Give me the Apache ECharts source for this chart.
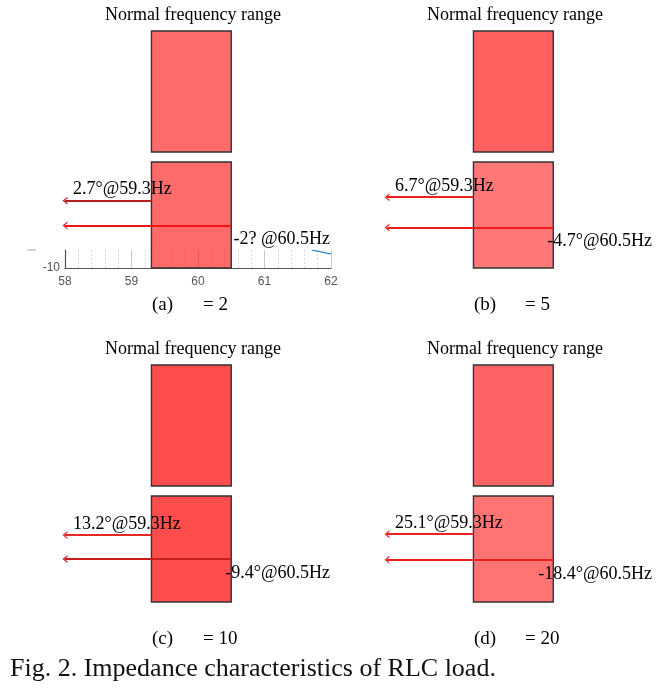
<!DOCTYPE html>
<html><head><meta charset="utf-8">
<script src="https://cdn.jsdelivr.net/npm/echarts@6/dist/echarts.min.js"></script>
<style>html,body{margin:0;padding:0;background:#fff}#c{width:670px;height:688px}</style>
</head><body><div id="c"></div>
<script>
// ---- data ----
const freqTicks = [58, 59, 60, 61, 62];
const normalRange = [59.3, 60.5];
const panelLetters = ['(a)', '(b)', '(c)', '(d)'];
const ratioValues = [2, 5, 10, 20];
const phaseAtLow = [2.7, 6.7, 13.2, 25.1];      // degrees @ 59.3 Hz
const phaseAtHigh = [-2, -4.7, -9.4, -18.4];    // degrees @ 60.5 Hz
const lowLabelText = ['2.7°@59.3Hz', '6.7°@59.3Hz', '13.2°@59.3Hz', '25.1°@59.3Hz'];
const highLabelText = ['-2? @60.5Hz', '-4.7°@60.5Hz', '-9.4°@60.5Hz', '-18.4°@60.5Hz'];
const phaseLimit = [10, 20, 50, 90];
const stripRange = [-10, -6.6];
const stripTickLabels = [-10];
const curveFreq = [61.71, 62];
const curvePhase = [-6.6, -7.36];
const panelTitle = 'Normal frequency range';
const figCaption = 'Fig. 2. Impedance characteristics of RLC load.';

// ---- layout / style ----
const gridLeft = [65, 387, 65, 387];
const gridWidth = 266;
const upperTop = [31, 31, 365, 365];
const upperH = 121;
const lowerTop = [162, 162, 496, 496];
const lowerH = 106;
const upperFill = ['rgba(255,0,0,0.58)', 'rgba(255,0,0,0.62)', 'rgba(255,0,0,0.70)', 'rgba(255,0,0,0.61)'];
const lowerFill = ['rgba(255,0,0,0.58)', 'rgba(255,0,0,0.53)', 'rgba(255,0,0,0.70)', 'rgba(255,0,0,0.55)'];
const arrowLowColor = ['#B82020', '#EC1E1E', '#E82626', '#EC2020'];
const arrowHighColor = ['#F01616', '#EC1E1E', '#C81C1C', '#EC2020'];
const serif = '"Liberation Serif", "Times New Roman", serif';
const chevron = 'path://M0,10 L5,0 L10,10 L8.2,10 L5,3.6 L1.8,10 Z';

const grids = [], xAxes = [], yAxes = [], series = [], graphics = [];
let gi = 0;
function hiddenX(g) {
  return { type: 'value', gridIndex: g, min: freqTicks[0], max: freqTicks[freqTicks.length - 1], show: false };
}
for (let p = 0; p < 4; p++) {
  // upper (magnitude) axes
  grids.push({ left: gridLeft[p], top: upperTop[p], width: gridWidth, height: upperH });
  xAxes.push(hiddenX(gi));
  yAxes.push({ type: 'value', gridIndex: gi, min: 0, max: 1, show: false });
  series.push({
    type: 'scatter', xAxisIndex: gi, yAxisIndex: gi, data: [], silent: true,
    markArea: { silent: true, itemStyle: { color: upperFill[p], borderColor: '#333', borderWidth: 1.4 },
      data: [[{ xAxis: normalRange[0] }, { xAxis: normalRange[1] }]] }
  });
  gi++;
  // lower (phase) axes
  grids.push({ left: gridLeft[p], top: lowerTop[p], width: gridWidth, height: lowerH });
  xAxes.push(hiddenX(gi));
  yAxes.push({ type: 'value', gridIndex: gi, min: -phaseLimit[p], max: phaseLimit[p], show: false });
  const lblBase = { show: true, fontFamily: serif, fontSize: 18, color: '#000', distance: 0 };
  series.push({
    type: 'scatter', xAxisIndex: gi, yAxisIndex: gi, symbolSize: 0, silent: true, z: 5,
    itemStyle: { opacity: 1 },
    data: [
      { value: [freqTicks[0], phaseAtLow[p]], label: Object.assign({}, lblBase, { position: 'right', offset: [8, -11], formatter: lowLabelText[p] }) },
      { value: [freqTicks[freqTicks.length - 1], phaseAtHigh[p]], label: Object.assign({}, lblBase, { position: 'left', offset: [-1, 14], formatter: highLabelText[p] }) }
    ],
    markArea: { silent: true, itemStyle: { color: lowerFill[p], borderColor: '#333', borderWidth: 1.4 },
      data: [[{ xAxis: normalRange[0] }, { xAxis: normalRange[1] }]] },
    markLine: {
      silent: true, symbol: ['none', chevron], symbolSize: [8, 5], label: { show: false },
      lineStyle: { type: 'solid', width: 2 },
      data: [
        [{ coord: [normalRange[0], phaseAtLow[p]], lineStyle: { color: arrowLowColor[p], width: 2, type: 'solid' }, symbol: 'none' },
         { coord: [freqTicks[0], phaseAtLow[p]] }],
        [{ coord: [normalRange[1], phaseAtHigh[p]], lineStyle: { color: arrowHighColor[p], width: 2, type: 'solid' }, symbol: 'none' },
         { coord: [freqTicks[0], phaseAtHigh[p]] }]
      ]
    }
  });
  gi++;
  // titles and captions
  const cx = gridLeft[p] + gridWidth * (60 - freqTicks[0]) / (freqTicks[4] - freqTicks[0]) - 3;
  graphics.push({ type: 'text', x: cx - 2, y: upperTop[p] - 16, style: { text: panelTitle, font: '18px ' + serif, fill: '#000', textAlign: 'center', textVerticalAlign: 'middle' } });
  graphics.push({ type: 'text', x: gridLeft[p] + 87, y: lowerTop[p] + lowerH + 37, style: { text: panelLetters[p], font: '19px ' + serif, fill: '#000', textAlign: 'left', textVerticalAlign: 'middle' } });
  graphics.push({ type: 'text', x: gridLeft[p] + 138, y: lowerTop[p] + lowerH + 37, style: { text: '= ' + ratioValues[p], font: '19px ' + serif, fill: '#000', textAlign: 'left', textVerticalAlign: 'middle' } });
}
// visible axis strip of panel (a)
grids.push({ left: gridLeft[0], top: 250, width: gridWidth, height: 18 });
xAxes.push({
  type: 'value', gridIndex: gi, min: freqTicks[0], max: freqTicks[4], interval: 1,
  axisLine: { show: true, lineStyle: { color: '#555', width: 1.2 } },
  axisTick: { show: false },
  axisLabel: { color: '#555', fontSize: 12, fontFamily: '"Liberation Sans", Arial, sans-serif', margin: 8,
    formatter: v => freqTicks.includes(v) ? String(v) : '' },
  splitLine: { show: true, lineStyle: { color: '#c8c8c8', width: 1 } },
  minorTick: { show: false, splitNumber: 5 },
  minorSplitLine: { show: true, lineStyle: { color: '#d8d8d8', type: [2, 2], width: 1 } }
});
yAxes.push({
  type: 'value', gridIndex: gi, min: stripRange[0], max: stripRange[1], interval: 10,
  axisLine: { show: true, lineStyle: { color: '#555', width: 1.2 } },
  axisTick: { show: false },
  axisLabel: { color: '#555', fontSize: 12, fontFamily: '"Liberation Sans", Arial, sans-serif', margin: 5,
    formatter: v => stripTickLabels.includes(v) ? String(v) : '' },
  splitLine: { show: false }
});
series.push({
  type: 'line', xAxisIndex: gi, yAxisIndex: gi, showSymbol: false, clip: true, silent: true, z: 1,
  data: curveFreq.map((f, i) => [f, curvePhase[i]]),
  lineStyle: { color: '#0072BD', width: 1.2 }
});
graphics.push({ type: 'line', shape: { x1: 27, y1: 250, x2: 36, y2: 250 }, style: { stroke: '#aaa', lineWidth: 1 } });
graphics.push({ type: 'text', x: 10, y: 669, style: { text: figCaption, font: '26px ' + serif, fill: '#111', textAlign: 'left', textVerticalAlign: 'middle' } });

const chart = echarts.init(document.getElementById('c'), null, { renderer: 'canvas' });
chart.setOption({
  animation: false,
  backgroundColor: '#fff',
  grid: grids, xAxis: xAxes, yAxis: yAxes, series: series, graphic: graphics
});
</script></body></html>
